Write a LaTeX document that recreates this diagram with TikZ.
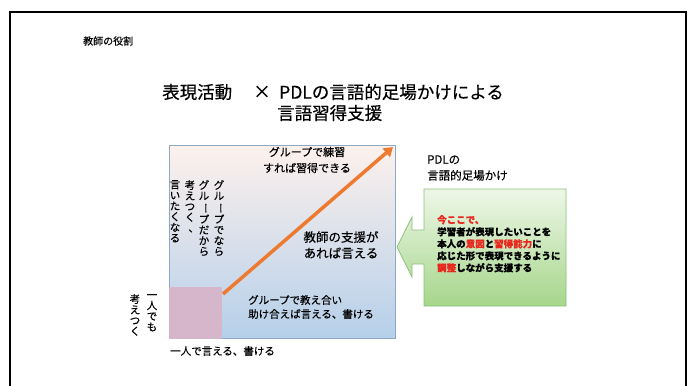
\documentclass[tikz,border=0pt]{standalone}
\usepackage{fontspec}
\usepackage{graphicx}
\setmainfont[FakeBold=0.4]{Noto Sans CJK JP}
\newcommand{\vchoon}{\rotatebox[origin=c]{-90}{ー}}
\newcommand{\vten}{\makebox[1em][l]{\hspace{0.35em}\makebox[0.5em][l]{、}}}
\usetikzlibrary{arrows.meta}
\definecolor{boxtop}{HTML}{FDF1EC}
\definecolor{boxbot}{HTML}{B5CFEA}
\definecolor{boxline}{HTML}{8EA9C6}
\definecolor{pinksq}{HTML}{D6B6CB}
\definecolor{arrowor}{HTML}{EE7A30}
\definecolor{greentop}{HTML}{EEF7E8}
\definecolor{greenbot}{HTML}{A6D68B}
\definecolor{greenline}{HTML}{8CC07A}
\definecolor{hl}{HTML}{E8281E}
\tikzset{
  lbl/.style={inner sep=0pt, align=left, text=black},
  vcol/.style={inner sep=0pt, anchor=north, align=center, font=\fontsize{10.5}{10.7}\selectfont},
  mainbox/.style={draw=boxline, line width=0.8pt, top color=boxtop, bottom color=boxbot, inner sep=0pt},
  titlefont/.style={font=\fontsize{17.5}{20}\selectfont},
}
\begin{document}
\begin{tikzpicture}[x=1pt,y=-1pt]
\useasboundingbox (0,0) rectangle (692,385);
\fill[white] (0,0) rectangle (692,385);
% outer frame
\draw[line width=2pt] (9.5,395) -- (9.5,12) -- (686,12) -- (686,395);
% heading
\node[lbl, anchor=west, font=\fontsize{10}{12}\selectfont] (head) at (83,41) {教師の役割};
\node[lbl, anchor=west, titlefont] (t1) at (162,92) {表現活動};
\node[lbl, anchor=center, titlefont] (tx) at (262,92) {×};
\node[lbl, anchor=west, titlefont] (t2) at (279,92) {PDLの言語的足場かけによる};
\node[lbl, anchor=west, titlefont] (t3) at (277,113) {言語習得支援};
% main box
\node[mainbox, anchor=north west, minimum width=226pt, minimum height=193pt] (box) at (169,145) {};
\node[fill=pinksq, anchor=south west, minimum width=53pt, minimum height=52pt, inner sep=0pt] (sq) at (box.south west) {};
\coordinate (as) at (223,294);
\coordinate (ae) at (393,147);
\draw[arrowor, line width=3.5pt, -{Triangle[length=9pt,width=11pt]}] (as) -- (ae);
% texts inside box
\node[lbl, align=center, font=\fontsize{11}{16}\selectfont] (g1) at (307,160) {グループで練習\\すれば習得できる};
\node[lbl, align=center, font=\fontsize{12.5}{16}\selectfont] (g2) at (341,245) {教師の支援が\\あれば言える};
\node[lbl, anchor=west, font=\fontsize{10.5}{14}\selectfont] (g3) at (248,307) {グループで教え合い\\助け合えば言える、書ける};
\node[vcol] (v1) at (175,180) {言\\い\\た\\く\\な\\る};
\node[vcol] (v2) at (190,180) {考\\え\\つ\\く\\\vten};
\node[vcol] (v3) at (204,180) {グ\\ル\\\vchoon\\プ\\だ\\か\\ら};
\node[vcol] (v4) at (219,180) {グ\\ル\\\vchoon\\プ\\で\\な\\ら};
\node[vcol] (v5) at (152,294) {一\\人\\で\\も};
\node[vcol] (v6) at (135,294) {考\\え\\つ\\く};
\node[lbl, anchor=west, font=\fontsize{10.5}{12}\selectfont] (bot) at (170,351) {一人で言える、書ける};
% right side
\node[lbl, anchor=west, font=\fontsize{11.5}{16}\selectfont] (pdl) at (427,168) {PDLの\\言語的足場かけ};
\path[draw=greenline, line width=0.8pt, top color=greentop, bottom color=greenbot]
  (424,189) -- (566,189) -- (566,306) -- (424,306) -- (424,264) -- (412,264) -- (412,277)
  -- (397,247) -- (412,217) -- (412,230) -- (424,230) -- cycle;
\node[lbl, anchor=north west, font=\fontsize{9.5}{12}\selectfont\bfseries] (gt) at (437,215)
  {\textcolor{hl}{今ここで、}\\学習者が表現したいことを\\本人の\textcolor{hl}{意図}と\textcolor{hl}{習得能力}に\\応じた形で表現できるように\\\textcolor{hl}{調整}しながら支援する};
\end{tikzpicture}
\end{document}
